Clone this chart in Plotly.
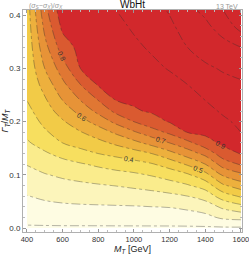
import plotly.graph_objects as go

# M_T grid [GeV]
mass = [400, 500, 600, 700, 800, 900, 1000, 1100, 1200, 1300, 1400, 1500, 1600]
# Gamma_T / M_T grid
width = [0.0, 0.02, 0.04, 0.06, 0.08, 0.10, 0.12, 0.14, 0.16, 0.18, 0.20,
         0.22, 0.24, 0.27, 0.30, 0.34, 0.38, 0.41]
# (sigma_S - sigma_X)/sigma_X, rows follow `width`, columns follow `mass`
ratio = [
    [-0.012] * 13,
    [0.032, 0.038, 0.043, 0.044, 0.045, 0.047, 0.048, 0.050, 0.051, 0.057, 0.071, 0.119, 0.133],
    [0.065, 0.077, 0.085, 0.089, 0.091, 0.093, 0.095, 0.100, 0.104, 0.120, 0.150, 0.220, 0.270],
    [0.097, 0.116, 0.128, 0.135, 0.141, 0.147, 0.155, 0.165, 0.178, 0.200, 0.240, 0.350, 0.415],
    [0.132, 0.155, 0.170, 0.181, 0.192, 0.203, 0.217, 0.233, 0.258, 0.291, 0.344, 0.486, 0.553],
    [0.168, 0.194, 0.216, 0.234, 0.252, 0.268, 0.283, 0.308, 0.343, 0.386, 0.467, 0.614, 0.677],
    [0.204, 0.240, 0.268, 0.291, 0.317, 0.342, 0.363, 0.392, 0.441, 0.513, 0.600, 0.744, 0.811],
    [0.247, 0.288, 0.329, 0.368, 0.400, 0.427, 0.458, 0.500, 0.567, 0.647, 0.729, 0.856, 0.907],
    [0.289, 0.337, 0.400, 0.435, 0.471, 0.519, 0.571, 0.633, 0.700, 0.771, 0.862, 0.919, 0.953],
    [0.320, 0.387, 0.444, 0.494, 0.550, 0.617, 0.688, 0.756, 0.819, 0.902, 0.920, 0.952, 1.000],
    [0.347, 0.423, 0.489, 0.564, 0.638, 0.725, 0.800, 0.860, 0.907, 0.924, 0.947, 0.984, 1.019],
    [0.374, 0.454, 0.543, 0.633, 0.726, 0.825, 0.890, 0.911, 0.926, 0.946, 0.973, 1.012, 1.039],
    [0.400, 0.485, 0.600, 0.700, 0.800, 0.900, 0.913, 0.929, 0.946, 0.967, 1.000, 1.035, 1.058],
    [0.409, 0.540, 0.675, 0.800, 0.910, 0.918, 0.935, 0.955, 0.975, 1.000, 1.043, 1.076, 1.087],
    [0.418, 0.600, 0.750, 0.900, 0.925, 0.935, 0.957, 0.982, 1.005, 1.043, 1.086, 1.108, 1.130],
    [0.429, 0.667, 0.850, 0.930, 0.940, 0.959, 0.986, 1.010, 1.043, 1.100, 1.135, 1.169, 1.200],
    [0.441, 0.728, 0.925, 0.955, 0.960, 0.982, 1.010, 1.040, 1.081, 1.144, 1.182, 1.240, 1.340],
    [0.450, 0.770, 0.960, 0.975, 0.975, 1.000, 1.030, 1.060, 1.110, 1.180, 1.220, 1.300, 1.400],
]

x_ticks = [400, 600, 800, 1000, 1200, 1400, 1600]
y_ticks = [0.0, 0.1, 0.2, 0.3, 0.4]

band_colors = ['#fefde8', '#fefce2', '#fcf5bb', '#faec8c', '#f7df5f', '#f2cb47',
               '#edb03d', '#e79337', '#e07733', '#da5a30'] + ['#d2282c'] * 6
nb = len(band_colors)  # 16 bands for levels 0..1.4 step 0.1
cscale = []
for j, c in enumerate(band_colors):
    lo = max(0.0, (j - 0.5) / (nb - 1))
    hi = min(1.0, (j + 0.5) / (nb - 1))
    cscale.append([lo, c])
    cscale.append([hi, c])

font = "Liberation Sans, Arial, sans-serif"
line_col = "rgba(45,45,45,0.6)"

fig = go.Figure()
fig.add_trace(go.Contour(
    x=mass, y=width, z=ratio, autocontour=False,
    contours=dict(start=0, end=1.45, size=0.1, coloring="fill"),
    colorscale=cscale, showscale=False, line=dict(width=0),
    hoverinfo="skip"))
# unlabeled lines
for s, e in [(0.1, 0.35), (1.0, 1.45)]:
    fig.add_trace(go.Contour(
        x=mass, y=width, z=ratio, autocontour=False,
        contours=dict(start=s, end=e, size=0.1, coloring="none"),
        showscale=False, line=dict(width=0.6, color=line_col, dash="dashdot"),
        hoverinfo="skip"))
# labeled lines
for s, e in [(0.0, 0.05), (0.4, 0.95)]:
    fig.add_trace(go.Contour(
        x=mass, y=width, z=ratio, autocontour=False,
        contours=dict(start=s, end=e, size=0.1, coloring="none",
                      showlabels=True, labelformat=".1~f",
                      labelfont=dict(size=7, color="#333", family=font)),
        showscale=False, line=dict(width=0.6, color=line_col, dash="dashdot"),
        hoverinfo="skip"))

axis_common = dict(showline=True, linecolor="#b0b0b0", linewidth=1, mirror="ticks",
                   ticks="inside", ticklen=3, tickcolor="#999", showgrid=False,
                   zeroline=False, automargin=False, ticklabeloverflow="allow")
fig.update_layout(
    width=249, height=256, margin=dict(l=23, r=7, t=10, b=24),
    paper_bgcolor="white", plot_bgcolor="white", showlegend=False,
    font=dict(family=font),
    xaxis=dict(range=[378, 1606], tickvals=x_ticks, ticktext=[str(v) for v in x_ticks],
               tickfont=dict(size=7.5, color="#333", family=font),
               minor=dict(dtick=50, ticks="inside", ticklen=2, tickcolor="#bbb"),
               title=dict(text="<i>M</i><sub><i>T</i></sub> [GeV]", standoff=2,
                          font=dict(size=9, color="#222", family=font)),
               **axis_common),
    yaxis=dict(range=[-0.0075, 0.41], tickvals=y_ticks, ticktext=[f"{v:.1f}" for v in y_ticks],
               tickfont=dict(size=8, color="#333", family=font),
               minor=dict(dtick=0.02, ticks="inside", ticklen=2, tickcolor="#bbb"),
               title=dict(text="<i>Γ</i><sub><i>T</i></sub>/<i>M</i><sub><i>T</i></sub>", standoff=1,
                          font=dict(size=9, color="#222", family=font)),
               **axis_common),
    annotations=[
        dict(text="WbHt", x=0.5, y=1, xref="paper", yref="paper", xanchor="center",
             yanchor="bottom", yshift=-2, showarrow=False,
             font=dict(size=10, color="#111", family=font)),
        dict(text="(<i>σ</i><sub><i>S</i></sub>−<i>σ</i><sub><i>X</i></sub>)/<i>σ</i><sub><i>X</i></sub>",
             x=0.02, y=1, xref="paper", yref="paper", xanchor="left", yanchor="bottom",
             yshift=-2, showarrow=False, font=dict(size=7, color="#999", family=font)),
        dict(text="13 TeV", x=0.99, y=1, xref="paper", yref="paper", xanchor="right",
             yanchor="bottom", yshift=-2, showarrow=False,
             font=dict(size=7, color="#999", family=font)),
    ],
)
fig.write_html("out.html", config={"displayModeBar": False})

# remove the default page margin so the 249x256 figure fits the window exactly
with open("out.html", encoding="utf-8") as f:
    html = f.read()
html = html.replace("<head>", "<head><style>html,body{margin:0;padding:0;overflow:hidden;}</style>", 1)
with open("out.html", "w", encoding="utf-8") as f:
    f.write(html)
